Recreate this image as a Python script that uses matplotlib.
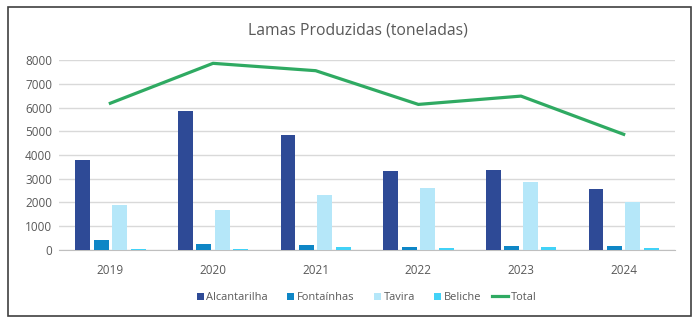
import numpy as np
import matplotlib.pyplot as plt
from matplotlib.patches import Rectangle
from matplotlib.legend_handler import HandlerPatch

plt.rcParams['font.family'] = ['Open Sans', 'DejaVu Sans']

years = ['2019', '2020', '2021', '2022', '2023', '2024']
alcantarilha = [3790, 5850, 4860, 3330, 3370, 2570]
fontainhas = [420, 270, 210, 110, 150, 150]
tavira = [1910, 1700, 2330, 2610, 2880, 2030]
beliche = [40, 40, 110, 70, 110, 70]
total = [6180, 7860, 7550, 6130, 6480, 4870]

series = [('Alcantarilha', alcantarilha, '#2E4A96'),
          ('Fontaínhas', fontainhas, '#0E86C6'),
          ('Tavira', tavira, '#B5E7F9'),
          ('Beliche', beliche, '#42D2F7')]

fig = plt.figure(figsize=(7, 3.27), dpi=100)
ax = fig.add_axes([0.0843, 0.2355, 0.88, 0.581])

x = np.arange(len(years))
offsets = [-0.27, -0.09, 0.09, 0.27]
handles = []
labels = []
for (name, vals, col), off in zip(series, offsets):
    b = ax.bar(x + off, vals, width=0.145, color=col, zorder=3)
    handles.append(b.patches[0])
    labels.append(name)

ln, = ax.plot(x, total, color='#2FAA62', linewidth=2.3, zorder=4)
handles.append(ln)
labels.append('Total')

ax.set_xlim(-0.5, len(years) - 0.5)
ax.set_ylim(0, 8000)
ax.set_yticks(range(0, 8001, 1000))
ax.set_xticks(x)
ax.set_xticklabels(years)
ax.grid(axis='y', color='#D9D9D9', linewidth=1, zorder=0)
for s in ['top', 'right', 'left']:
    ax.spines[s].set_visible(False)
ax.spines['bottom'].set_color('#BFBFBF')
ax.tick_params(axis='both', length=0, labelsize=8.5, colors='#595959')
ax.tick_params(axis='x', pad=10)
ax.tick_params(axis='y', pad=5)

fig.text(0.511, 0.896, 'Lamas Produzidas (toneladas)', ha='center', va='baseline',
         fontsize=11.3, color='#595959')


# small square at the right end of the handle box, like Excel
def square(legend, orig_handle, xdescent, ydescent, width, height, fontsize):
    s = 0.65 * fontsize
    return Rectangle((width - s, (height - s) / 2), s, s)


fig.legend(handles, labels, loc='center',
           bbox_to_anchor=(0.517, 0.089), ncol=5, frameon=False,
           fontsize=7.9, handlelength=1.5, handleheight=0.8, columnspacing=0.9,
           handletextpad=0.25, labelcolor='#595959',
           handler_map={h: HandlerPatch(patch_func=square) for h in handles[:4]})

fig.patches.append(Rectangle((0.0114, 0.0336), 0.9757, 0.945, transform=fig.transFigure,
                             fill=False, edgecolor='#404040', linewidth=1.2))

fig.savefig('out.png', dpi=100)
